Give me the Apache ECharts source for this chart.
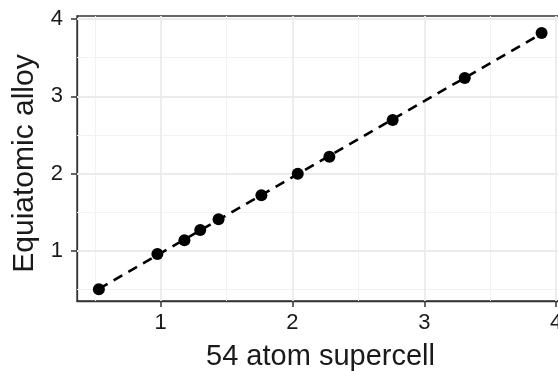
<!DOCTYPE html>
<html><head><meta charset="utf-8">
<script src="https://cdn.jsdelivr.net/npm/echarts@6/dist/echarts.min.js"></script>
<style>html,body{margin:0;padding:0;background:#fff}#c{width:558px;height:371px}</style>
</head><body><div id="c"></div>
<script>
// Data
const supercell54 = [0.531, 0.975, 1.18, 1.30, 1.439, 1.764, 2.04, 2.28, 2.76, 3.307, 3.89];
const equiatomic  = [0.50, 0.957, 1.135, 1.268, 1.407, 1.718, 1.997, 2.218, 2.693, 3.237, 3.82];
const xMajorTicks = [1, 2, 3, 4];
const xMinorTicks = [0.5, 1.5, 2.5, 3.5];
const yMajorTicks = [1, 2, 3, 4];
const yMinorTicks = [0.5, 1.5, 2.5, 3.5];
const xTitle = '54 atom supercell';
const yTitle = 'Equiatomic alloy';

const points = supercell54.map((x, i) => [x, equiatomic[i]]);

// least-squares fit line
const n = supercell54.length;
const mx = supercell54.reduce((a, b) => a + b, 0) / n;
const my = equiatomic.reduce((a, b) => a + b, 0) / n;
let sxy = 0, sxx = 0;
for (let i = 0; i < n; i++) { sxy += (supercell54[i] - mx) * (equiatomic[i] - my); sxx += (supercell54[i] - mx) ** 2; }
const slope = sxy / sxx, icpt = my - slope * mx;
const xLo = Math.min(...supercell54), xHi = Math.max(...supercell54);
const fitLine = [[xLo, icpt + slope * xLo], [xHi, icpt + slope * xHi]];

const majorStyle = { color: '#ebebeb', width: 1.8, type: 'solid' };
const minorStyle = { color: '#f2f2f2', width: 1, type: 'solid' };
const gridMarks = []
  .concat(xMinorTicks.map(v => ({ xAxis: v, lineStyle: minorStyle })))
  .concat(yMinorTicks.map(v => ({ yAxis: v, lineStyle: minorStyle })))
  .concat(xMajorTicks.map(v => ({ xAxis: v, lineStyle: majorStyle })))
  .concat(yMajorTicks.map(v => ({ yAxis: v, lineStyle: majorStyle })));

const font = 'Liberation Sans, Arial, sans-serif';
const chart = echarts.init(document.getElementById('c'), null, { renderer: 'canvas' });
chart.setOption({
  animation: false,
  backgroundColor: '#ffffff',
  grid: { left: 77, right: -6, top: 16, bottom: 70, outerBoundsMode: 'none', containLabel: false,
          show: true, borderColor: '#333333', borderWidth: 1.3, backgroundColor: '#ffffff' },
  xAxis: {
    type: 'value', min: 0.365, max: 4.06,
    name: xTitle, nameLocation: 'middle', nameGap: 41,
    nameTextStyle: { fontSize: 29, color: '#1a1a1a', fontFamily: font },
    axisLine: { show: true, lineStyle: { color: '#333333', width: 1.3 } },
    axisTick: { show: true, customValues: xMajorTicks, length: 6, lineStyle: { color: '#333333', width: 1.5 } },
    axisLabel: { customValues: xMajorTicks, fontSize: 22, color: '#1a1a1a', margin: 11, fontFamily: font },
    splitLine: { show: false }
  },
  yAxis: {
    type: 'value', min: 0.348, max: 4.04,
    name: yTitle, nameLocation: 'middle', nameGap: 35, nameRotate: 90,
    nameTextStyle: { fontSize: 30, color: '#1a1a1a', fontFamily: font, padding: [0, 10, 0, 0] },
    axisLine: { show: true, lineStyle: { color: '#333333', width: 1.3 } },
    axisTick: { show: true, customValues: yMajorTicks, length: 6, lineStyle: { color: '#333333', width: 1.5 } },
    axisLabel: { customValues: yMajorTicks, fontSize: 22, color: '#1a1a1a', margin: 14, fontFamily: font },
    splitLine: { show: false }
  },
  series: [
    {
      type: 'line', data: [], silent: true, z: 0, zlevel: 0,
      markLine: { silent: true, symbol: 'none', label: { show: false }, emphasis: { disabled: true }, animation: false, data: gridMarks }
    },
    {
      type: 'scatter', data: points, symbol: 'circle', symbolSize: 12, z: 3, zlevel: 1,
      itemStyle: { color: '#000000', opacity: 1 }, silent: true
    },
    {
      type: 'line', data: fitLine, showSymbol: false, symbol: 'none', z: 4, zlevel: 1, silent: true,
      lineStyle: { color: '#000000', width: 2.6, type: [10, 7] }
    }
  ]
});
</script>
</body></html>
